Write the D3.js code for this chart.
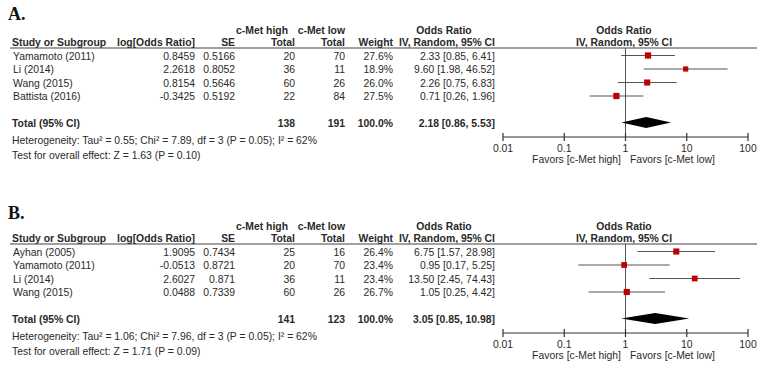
<!DOCTYPE html>
<html>
<head>
<meta charset="utf-8">
<script src="https://cdn.jsdelivr.net/npm/d3@7"></script>
<style>
  body { margin: 0; background: #fff; }
  svg text { font-family: "Liberation Sans", Arial, sans-serif; font-size: 10.4px; fill: #2a2a2a; }
  svg text.b { font-size: 10.4px; font-weight: bold; }
</style>
</head>
<body>
<svg id="chart" width="760" height="365"></svg>
<script>
// ---- data: panel A ----
const studiesA = ["Yamamoto (2011)", "Li (2014)", "Wang (2015)", "Battista (2016)"];
const logOrA = ["0.8459", "2.2618", "0.8154", "-0.3425"];
const seA = ["0.5166", "0.8052", "0.5646", "0.5192"];
const highA = [20, 36, 60, 22];
const lowA = [70, 11, 26, 84];
const weightA = [27.6, 18.9, 26.0, 27.5];
const orA = [2.33, 9.60, 2.26, 0.71];
const loA = [0.85, 1.98, 0.75, 0.26];
const hiA = [6.41, 46.52, 6.83, 1.96];
const totalA = { high: 138, low: 191, or: 2.18, lo: 0.86, hi: 5.53 };
const hetA = "Heterogeneity: Tau\u00b2 = 0.55; Chi\u00b2 = 7.89, df = 3 (P = 0.05); I\u00b2 = 62%";
const testA = "Test for overall effect: Z = 1.63 (P = 0.10)";

// ---- data: panel B ----
const studiesB = ["Ayhan (2005)", "Yamamoto (2011)", "Li (2014)", "Wang (2015)"];
const logOrB = ["1.9095", "-0.0513", "2.6027", "0.0488"];
const seB = ["0.7434", "0.8721", "0.871", "0.7339"];
const highB = [25, 20, 36, 60];
const lowB = [16, 70, 11, 26];
const weightB = [26.4, 23.4, 23.4, 26.7];
const orB = [6.75, 0.95, 13.50, 1.05];
const loB = [1.57, 0.17, 2.45, 0.25];
const hiB = [28.98, 5.25, 74.43, 4.42];
const totalB = { high: 141, low: 123, or: 3.05, lo: 0.85, hi: 10.98 };
const hetB = "Heterogeneity: Tau\u00b2 = 1.06; Chi\u00b2 = 7.96, df = 3 (P = 0.05); I\u00b2 = 62%";
const testB = "Test for overall effect: Z = 1.71 (P = 0.09)";

const tickValues = [0.01, 0.1, 1, 10, 100];
const tickLabels = ["0.01", "0.1", "1", "10", "100"];

const svg = d3.select("#chart");
const x = d3.scaleLog().domain([0.01, 100]).range([503, 748]);
const boxSize = d3.scaleSqrt().domain([0, 28]).range([0, 6.3]);
const fmt = d3.format(".2f");

function txt(g, s, xx, yy, anchor, bold) {
  return g.append("text")
    .attr("class", bold ? "b" : null)
    .attr("x", xx).attr("y", yy)
    .attr("text-anchor", anchor || "start")
    .attr("dominant-baseline", "central")
    .text(s);
}

function drawPanel(label, y0, labelY, p) {
  const g = svg.append("g").attr("transform", `translate(0,${y0})`);

  // panel letter
  g.append("text").attr("x", 8).attr("y", labelY).attr("dominant-baseline", "central")
    .style("font-family", "'Liberation Serif', 'Times New Roman', serif")
    .style("font-size", "18px").style("font-weight", "bold").style("fill", "#111")
    .text(label);

  // headers
  txt(g, "c-Met high", 288, 30, "end", true);
  txt(g, "c-Met low", 345, 30, "end", true);
  txt(g, "Odds Ratio", 444, 30, "middle", true);
  txt(g, "Odds Ratio", 624, 30, "middle", true);
  txt(g, "Study or Subgroup", 12, 42, "start", true);
  txt(g, "log[Odds Ratio]", 195, 42, "end", true);
  txt(g, "SE", 235, 42, "end", true);
  txt(g, "Total", 295, 42, "end", true);
  txt(g, "Total", 345, 42, "end", true);
  txt(g, "Weight", 393, 42, "end", true);
  txt(g, "IV, Random, 95% CI", 495, 42, "end", true);
  txt(g, "IV, Random, 95% CI", 624, 42, "middle", true);

  g.append("line").attr("x1", 10).attr("x2", 757).attr("y1", 48).attr("y2", 48)
    .attr("stroke", "#444").attr("stroke-width", 1.2);

  const rowY = i => 56 + 13.5 * i;
  const totY = 123.5;
  const axisY = 137;

  // null line
  g.append("line").attr("x1", x(1)).attr("x2", x(1)).attr("y1", 48).attr("y2", axisY)
    .attr("stroke", "#555").attr("stroke-width", 1);

  p.studies.forEach((s, i) => {
    const y = rowY(i);
    txt(g, s, 13, y);
    txt(g, p.logOr[i], 195, y, "end");
    txt(g, p.se[i], 235, y, "end");
    txt(g, p.high[i], 295, y, "end");
    txt(g, p.low[i], 345, y, "end");
    txt(g, p.weight[i].toFixed(1) + "%", 393, y, "end");
    txt(g, `${fmt(p.or[i])} [${fmt(p.lo[i])}, ${fmt(p.hi[i])}]`, 495, y, "end");

    g.append("line").attr("x1", x(p.lo[i])).attr("x2", x(p.hi[i]))
      .attr("y1", y - 0.5).attr("y2", y - 0.5)
      .attr("stroke", "#555").attr("stroke-width", 1);
    const b = boxSize(p.weight[i]);
    g.append("rect").attr("x", x(p.or[i]) - b / 2).attr("y", y - 0.5 - b / 2)
      .attr("width", b).attr("height", b).attr("fill", "#c00000");
  });

  // total row
  txt(g, "Total (95% CI)", 12, totY, "start", true);
  txt(g, p.total.high, 295, totY, "end", true);
  txt(g, p.total.low, 345, totY, "end", true);
  txt(g, "100.0%", 393, totY, "end", true);
  txt(g, `${fmt(p.total.or)} [${fmt(p.total.lo)}, ${fmt(p.total.hi)}]`, 495, totY, "end", true);

  const dy = 5.5;
  g.append("path")
    .attr("d", `M${x(p.total.lo)},${totY - 1} L${x(p.total.or)},${totY - 1 - dy} L${x(p.total.hi)},${totY - 1} L${x(p.total.or)},${totY - 1 + dy}Z`)
    .attr("fill", "#000");

  txt(g, p.het, 12, 140);
  txt(g, p.test, 12, 155);

  // axis
  const ax = g.append("g").attr("transform", `translate(0,${axisY})`);
  ax.append("line").attr("x1", x(0.01)).attr("x2", x(100)).attr("stroke", "#333").attr("stroke-width", 1.2);
  ax.selectAll("line.tick").data(tickValues).join("line").attr("class", "tick")
    .attr("x1", d => x(d)).attr("x2", d => x(d)).attr("y1", -4).attr("y2", 4)
    .attr("stroke", "#333").attr("stroke-width", 1.2);
  ax.selectAll("text.tl").data(tickValues).join("text").attr("class", "tl")
    .attr("x", d => x(d)).attr("y", 11).attr("text-anchor", "middle")
    .attr("dominant-baseline", "central")
    .text((d, i) => tickLabels[i]);

  txt(g, "Favors [c-Met high]", 621, axisY + 22, "end");
  txt(g, "Favors [c-Met low]", 630, axisY + 22, "start");
}

drawPanel("A.", 0, 14, {
  studies: studiesA, logOr: logOrA, se: seA, high: highA, low: lowA, weight: weightA,
  or: orA, lo: loA, hi: hiA, total: totalA, het: hetA, test: testA
});
drawPanel("B.", 196, 17, {
  studies: studiesB, logOr: logOrB, se: seB, high: highB, low: lowB, weight: weightB,
  or: orB, lo: loB, hi: hiB, total: totalB, het: hetB, test: testB
});
</script>
</body>
</html>
